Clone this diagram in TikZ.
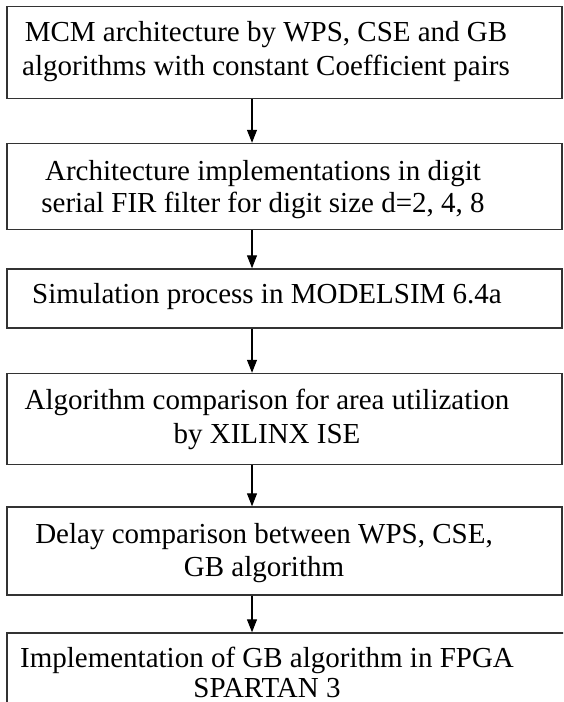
\documentclass[tikz,border=0pt]{standalone}
\usepackage{fontspec}
\setmainfont{Liberation Serif}
\usetikzlibrary{arrows.meta,positioning}

\begin{document}
\begin{tikzpicture}
		[x=1pt,y=-1pt,
		stepbox/.style ={rectangle, draw=black!80, line width=1.4pt, minimum width=555pt, inner sep=0pt},
		steptext/.style ={align=center, inner sep=0pt, font=\fontsize{29}{34}\selectfont},
		line/.style ={draw, line width=1.2pt, -{Triangle[width=10pt,length=13pt]}},
		]

		\useasboundingbox (0,0) rectangle (563,702);
		\clip (0,0) rectangle (563,702);

		% boxes
		\draw (284.5,52.5) node[stepbox, minimum height=92pt] (mcm) {};
		\draw (284.5,186.5) node[stepbox, minimum height=86pt] (arch) {};
		\draw (284.5,298.5) node[stepbox, minimum height=59pt] (sim) {};
		\draw (284.5,419) node[stepbox, minimum height=91pt] (area) {};
		\draw (284.5,551) node[stepbox, minimum height=88pt] (delay) {};
		\draw (290,683) node[stepbox, minimum width=566pt, minimum height=100pt] (fpga) {};

		% texts
		\draw (266,52) node[steptext] (mcm-text) {MCM architecture by WPS, CSE and GB\\algorithms with constant Coefficient pairs};
		\draw (263,190) node[steptext, font=\fontsize{29}{32}\selectfont] (arch-text) {Architecture implementations in digit\\serial FIR filter for digit size d=2, 4, 8};
		\draw (267,296.5) node[steptext] (sim-text) {Simulation process in MODELSIM 6.4a};
		\draw (267,419) node[steptext] (area-text) {Algorithm comparison for area utilization\\by XILINX ISE};
		\draw (264,553) node[steptext, font=\fontsize{29}{33}\selectfont] (delay-text) {Delay comparison between WPS, CSE,\\GB algorithm};
		\draw (267,672) node[steptext, font=\fontsize{29}{30}\selectfont] (fpga-text) {Implementation of GB algorithm in FPGA\\SPARTAN 3};

		\coordinate (spine) at (252,0);

		\path
		(mcm.south -| spine) edge[line] (arch.north -| spine)
		(arch.south -| spine) edge[line] (sim.north -| spine)
		(sim.south -| spine) edge[line] (area.north -| spine)
		(area.south -| spine) edge[line] (delay.north -| spine)
		(delay.south -| spine) edge[line] (fpga.north -| spine);
	\end{tikzpicture}
\end{document}
